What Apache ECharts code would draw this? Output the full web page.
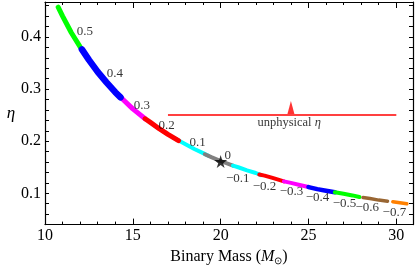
<!DOCTYPE html>
<html><head><meta charset="utf-8">
<script src="https://cdn.jsdelivr.net/npm/echarts@6/dist/echarts.min.js"></script>
<style>html,body{margin:0;padding:0;background:#fff}#c{width:415px;height:271px}</style>
</head><body><div id="c"></div>
<script>
// ---- data ----
const spinLabels = ['0.5','0.4','0.3','0.2','0.1','0','\u22120.1','\u22120.2','\u22120.3','\u22120.4','\u22120.5','\u22120.6','\u22120.7'];
const segP05 = [[10.75,0.457],[11.0,0.440],[11.5,0.408],[12.0,0.381],[12.6,0.351]];
const segP04 = [[12.1,0.376],[12.5,0.356],[13.0,0.333],[13.5,0.313],[14.0,0.294],[14.3,0.284]];
const segP03 = [[13.8,0.301],[14.5,0.278],[15.0,0.262],[15.7,0.243]];
const segP02 = [[15.7,0.243],[16.0,0.236],[16.5,0.224],[17.0,0.213],[17.6,0.201]];
const segP01 = [[17.3,0.207],[18.0,0.194],[18.5,0.185],[19.0,0.177],[19.3,0.172]];
const seg0   = [[19.1,0.175],[19.5,0.169],[20.0,0.162],[20.7,0.153]];
const segM01 = [[20.7,0.153],[21.0,0.150],[21.5,0.144],[22.0,0.139],[22.3,0.135]];
const segM02 = [[22.2,0.136],[22.5,0.134],[23.0,0.129],[23.6,0.123]];
const segM03 = [[23.6,0.123],[24.0,0.120],[24.5,0.116],[25.0,0.112]];
const segM04 = [[25.0,0.112],[25.5,0.108],[26.0,0.105],[26.5,0.102]];
const segM05 = [[26.5,0.102],[27.0,0.099],[27.5,0.096],[27.9,0.093]];
const segM06 = [[28.1,0.092],[28.5,0.090],[29.0,0.087],[29.5,0.085]];
const segM07 = [[29.8,0.084],[30.0,0.083],[30.6,0.080]];
const labelAnchors = [[12.27,0.411],[13.98,0.330],[15.51,0.269],[16.93,0.230],[18.69,0.198],[20.40,0.173],
  [20.97,0.128],[22.5,0.113],[24.03,0.104],[25.51,0.091],[27.05,0.081],[28.35,0.072],[29.89,0.063]];
const starPoint = [[20.0,0.161]];
const unphysicalLine = [[17,0.25],[30,0.25]];
const arrowPoint = [[24,0.2645]];
const unphysicalText = [[23.9,0.236]];
const xTickLabels = [10,15,20,25,30];
const yTickLabels = [0.1,0.2,0.3,0.4];

// ---- styles ----
const segments = [segP05,segP04,segP03,segP02,segP01,seg0,segM01,segM02,segM03,segM04,segM05,segM06,segM07];
const colors = ['#00ff00','#0000ff','#ff00ff','#ff0000','#00ffff','#808080','#00ffff','#ff0000','#ff00ff','#0000ff','#00ff00','#996633','#ff8000'];
const widths = [5,6.5,5,5,4,4,4,4,4,4.5,4,3.5,3.5];
const drawOrder = [0,2,1,4,3,5,6,7,8,9,10,11,12];
const FONT = 'Liberation Serif';

const series = [];
drawOrder.forEach(i => {
  series.push({type:'line', data:segments[i], symbol:'none', silent:true, z:2,
    lineStyle:{color:colors[i], width:widths[i], cap:'round', join:'round'}});
});
series.push({type:'scatter', data:labelAnchors.map((p,i)=>({value:p, name:spinLabels[i]})),
  symbolSize:1, itemStyle:{color:'rgba(0,0,0,0)'}, z:3,
  label:{show:true, position:'inside', formatter:p=>p.name, color:'#000', fontFamily:FONT, fontSize:13}});
series.push({type:'line', data:unphysicalLine, symbol:'none', z:2, lineStyle:{color:'#ff0000', width:1.5}});
series.push({type:'scatter', data:arrowPoint, symbol:'triangle', symbolSize:[7,13], z:3, itemStyle:{color:'#ff0000'}});
series.push({type:'scatter', data:unphysicalText, symbolSize:1, itemStyle:{color:'rgba(0,0,0,0)'}, z:3,
  label:{show:true, position:'inside', formatter:'{r|unphysical }{i|\u03b7}',
    rich:{r:{fontFamily:FONT, fontSize:12.5, color:'#000'}, i:{fontFamily:FONT, fontStyle:'italic', fontSize:12.5, color:'#000'}}}});
series.push({type:'scatter', data:starPoint, z:5,
  symbol:'path://M50,0 L61,35 L98,35 L68,57 L79,91 L50,70 L21,91 L32,57 L2,35 L39,35 Z',
  symbolSize:13, itemStyle:{color:'#000'}});

const axisLineStyle = {show:true, lineStyle:{color:'#000', width:1.2}};
function xAx(pos, labels){
  return {type:'value', min:10, max:30.95, interval:5, position:pos,
    axisLine:axisLineStyle, splitLine:{show:false},
    axisTick:{show:true, inside:true, length:6, lineStyle:{color:'#000'}},
    minorTick:{show:true, splitNumber:5, length:3, lineStyle:{color:'#000'}},
    axisLabel:{show:labels, showMaxLabel:false, margin:3, color:'#000', fontFamily:FONT, fontSize:16,
      formatter:v=> xTickLabels.includes(Math.round(v)) && Math.abs(v-Math.round(v))<1e-6 ? String(Math.round(v)) : ''},
    name: labels ? 'Binary Mass ({i|M}{s|\u2299})' : '', nameLocation:'middle', nameGap:21,
    nameTextStyle:{color:'#000', fontFamily:FONT, fontSize:16,
      rich:{i:{fontFamily:FONT, fontStyle:'italic', fontSize:16, color:'#000'}, s:{fontFamily:FONT, fontSize:10, color:'#000', verticalAlign:'bottom', padding:[9,0,0,0]}}}
  };
}
function yAx(pos, labels){
  return {type:'value', min:0.04, max:0.467, interval:0.02, position:pos,
    axisLine:axisLineStyle, splitLine:{show:false},
    axisTick:{show:true, inside:true, length:4, lineStyle:{color:'#000'}},
    axisLabel:{show:labels, showMaxLabel:false, margin:4, color:'#000', fontFamily:FONT, fontSize:16,
      formatter:v=>{ const r=Math.round(v*10)/10; return (Math.abs(v-r)<1e-6 && yTickLabels.includes(r)) ? r.toFixed(1) : ''; }},
    name: labels ? '\u03b7' : '', nameLocation:'middle', nameRotate:0, nameGap:28,
    nameTextStyle:{color:'#000', fontFamily:FONT, fontStyle:'italic', fontSize:17}
  };
}

const chart = echarts.init(document.getElementById('c'), null, {renderer:'canvas'});
chart.setOption({
  animation:false,
  backgroundColor:'#fff',
  grid:{left:45, right:2, top:2, bottom:42, containLabel:false},
  xAxis:[xAx('bottom', true), xAx('top', false)],
  yAxis:[yAx('left', true), yAx('right', false)],
  series: series
});
</script></body></html>
